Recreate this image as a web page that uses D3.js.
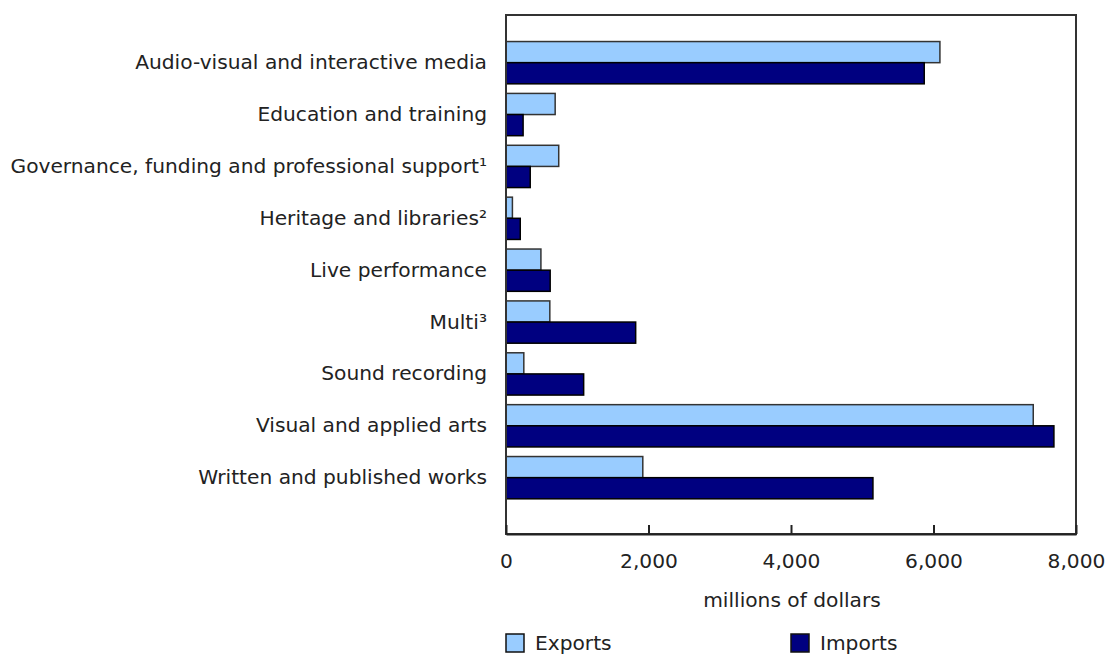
<!DOCTYPE html>
<html>
<head>
<meta charset="utf-8">
<script src="https://cdn.jsdelivr.net/npm/d3@7"></script>
<style>
  html, body { margin: 0; padding: 0; background: #fff; }
  svg text { font-family: "DejaVu Sans", Verdana, sans-serif; fill: #222; }
</style>
</head>
<body>
<svg id="chart" width="1105" height="656"></svg>
<script>
const categories = [
  "Audio-visual and interactive media",
  "Education and training",
  "Governance, funding and professional support\u00B9",
  "Heritage and libraries\u00B2",
  "Live performance",
  "Multi\u00B3",
  "Sound recording",
  "Visual and applied arts",
  "Written and published works"
];
const seriesNames = ["Exports", "Imports"];
const exportsValues = [6090, 690, 740, 90, 490, 615, 250, 7400, 1920];
const importsValues = [5870, 240, 340, 200, 620, 1820, 1090, 7690, 5150];
const xTicks = [0, 2000, 4000, 6000, 8000];
const xTitle = "millions of dollars";
const colors = ["#99CCFF", "#000080"];

(function () {
const svg = d3.select("#chart");
const mLeft = 506, mRight = 1076, mTop = 15, mBottom = 534;
const fs = 20.2;

const x = d3.scaleLinear().domain([0, 8000]).range([mLeft, mRight]);
const y = d3.scaleBand().domain(categories).range([mTop, mBottom])
  .paddingInner(0.185).paddingOuter(0.595).align(0.43);
const sub = d3.scaleBand().domain(seriesNames).range([0, y.bandwidth()]);

const rows = categories.map((c, i) => ({ c, vals: [exportsValues[i], importsValues[i]] }));

// bars
const g = svg.append("g");
rows.forEach(r => {
  r.vals.forEach((v, j) => {
    g.append("rect")
      .attr("x", x(0))
      .attr("y", y(r.c) + sub(seriesNames[j]))
      .attr("width", x(v) - x(0))
      .attr("height", sub.bandwidth())
      .attr("fill", colors[j])
      .attr("stroke", j === 0 ? "#333" : "#000")
      .attr("stroke-width", 1.5);
  });
});

// frame
svg.append("rect")
  .attr("x", mLeft).attr("y", mTop)
  .attr("width", mRight - mLeft).attr("height", mBottom - mTop)
  .attr("fill", "none").attr("stroke", "#333").attr("stroke-width", 2);

// x axis
const xAxis = d3.axisBottom(x).tickValues(xTicks)
  .tickFormat(d3.format(",")).tickSizeInner(-9).tickSizeOuter(0).tickPadding(20);
const ax = svg.append("g").attr("transform", `translate(0,${mBottom})`).call(xAxis);
ax.select(".domain").attr("stroke", "#222").attr("stroke-width", 2);
ax.selectAll(".tick line").attr("stroke", "#222").attr("stroke-width", 2);
ax.selectAll(".tick text").attr("font-size", fs).attr("fill", "#222")
  .style("font-family", '"DejaVu Sans", Verdana, sans-serif');

// y labels
const yAxis = d3.axisLeft(y).tickSize(0).tickPadding(19);
const ay = svg.append("g").attr("transform", `translate(${mLeft},0)`).call(yAxis);
ay.select(".domain").remove();
ay.selectAll(".tick text").attr("font-size", fs).attr("fill", "#222")
  .style("font-family", '"DejaVu Sans", Verdana, sans-serif');

// axis title
svg.append("text")
  .attr("x", (mLeft + mRight) / 2 + 1).attr("y", 607)
  .attr("text-anchor", "middle").attr("font-size", fs)
  .text(xTitle);

// legend
const legendX = [506, 791];
seriesNames.forEach((s, j) => {
  svg.append("rect")
    .attr("x", legendX[j]).attr("y", 634)
    .attr("width", 18).attr("height", 18)
    .attr("fill", colors[j]).attr("stroke", "#111").attr("stroke-width", 1.5);
  svg.append("text")
    .attr("x", legendX[j] + 29).attr("y", 650)
    .attr("font-size", fs)
    .text(s);
});
})();
</script>
</body>
</html>
